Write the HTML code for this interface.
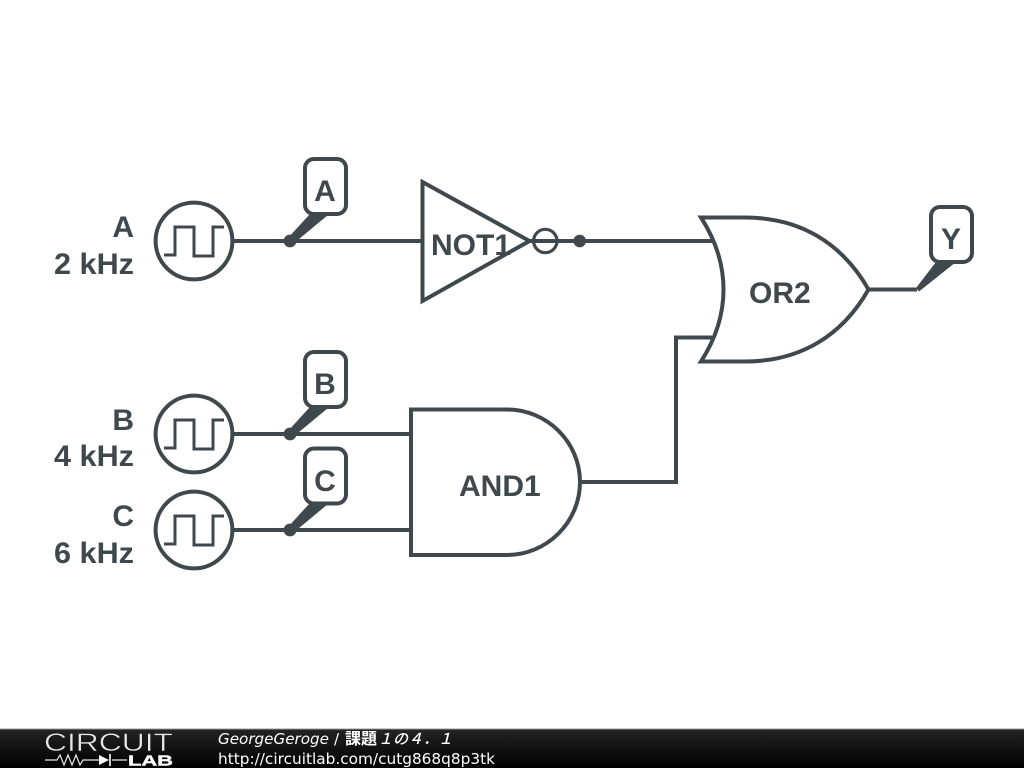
<!DOCTYPE html>
<html>
<head>
<meta charset="utf-8">
<style>
html,body{margin:0;padding:0;background:#fff;width:1024px;height:768px;overflow:hidden}
svg{display:block}
</style>
</head>
<body>
<svg width="1024" height="768" viewBox="0 0 1024 768" xmlns="http://www.w3.org/2000/svg">
<defs>
<linearGradient id="bar" x1="0" y1="0" x2="0" y2="1">
<stop offset="0" stop-color="#242424"/>
<stop offset="1" stop-color="#000"/>
</linearGradient>
</defs>
<rect width="1024" height="768" fill="#fff"/>
<g fill="none" stroke="#3f484d" stroke-width="4" stroke-linejoin="miter">
<!-- wires -->
<path d="M232 241H422"/>
<path d="M530 241H713"/>
<path d="M232 434H411"/>
<path d="M232 530H411"/>
<path d="M580 482H676V337.5H712"/>
<path d="M869 289.5H917"/>
<!-- sources -->
<circle cx="194" cy="241" r="38.4"/>
<circle cx="194" cy="434" r="38.4"/>
<circle cx="194" cy="530" r="38.4"/>
<g stroke-width="3">
<path d="M164 255H175V227H194V256H213V227H224"/>
<path d="M164 448H175V420H194V449H213V420H224"/>
<path d="M164 544H175V516H194V545H213V516H224"/>
</g>
<!-- NOT -->
<path d="M422.5 182V301L529.5 241Z" fill="#fff"/>
<circle cx="545.3" cy="241" r="11.7" stroke-width="3.2"/>
<!-- OR -->
<path d="M701 217.5H745C800 217.5 842 243 868.5 289.5C842 336 800 361.5 745 361.5H701C731 315 731 264 701 217.5Z" fill="#fff"/>
<!-- AND -->
<path d="M411 409.5H507C547 409.5 580 442 580 482C580 522 547 555 507 555H411Z" fill="#fff"/>
<!-- labels -->
<rect x="305" y="159" width="41" height="55" rx="9" fill="#fff"/>
<rect x="305" y="352" width="41" height="55" rx="9" fill="#fff"/>
<rect x="305" y="448.5" width="41" height="55" rx="9" fill="#fff"/>
<rect x="931" y="207" width="41" height="55" rx="9" fill="#fff"/>
</g>
<g fill="#3f484d">
<circle cx="290" cy="241" r="6.4"/>
<circle cx="290" cy="434" r="6.4"/>
<circle cx="290" cy="530" r="6.4"/>
<circle cx="579.7" cy="241" r="6.3"/>
<path d="M288 238L309 215H328L293 244Z"/>
<path d="M288 431L309 408H328L293 437Z"/>
<path d="M288 527L309 504H328L293 533Z"/>
<path d="M916 288L936 262H956L919 291.5Z"/>
</g>
<g font-family="'Liberation Sans',sans-serif" font-weight="700" font-size="30" fill="#3f484d">
<text x="134" y="237" text-anchor="end">A</text>
<text x="134" y="274" text-anchor="end" textLength="80" lengthAdjust="spacingAndGlyphs">2 kHz</text>
<text x="134" y="430" text-anchor="end">B</text>
<text x="134" y="466" text-anchor="end" textLength="80" lengthAdjust="spacingAndGlyphs">4 kHz</text>
<text x="134" y="526" text-anchor="end">C</text>
<text x="134" y="563" text-anchor="end" textLength="80" lengthAdjust="spacingAndGlyphs">6 kHz</text>
<text x="325" y="201" text-anchor="middle">A</text>
<text x="325" y="394" text-anchor="middle">B</text>
<text x="325" y="491" text-anchor="middle">C</text>
<text x="951" y="249" text-anchor="middle">Y</text>
<text x="431" y="255">NOT1</text>
<text x="749" y="303">OR2</text>
<text x="459" y="496">AND1</text>
</g>
<!-- footer -->
<rect x="0" y="729" width="1024" height="39" fill="url(#bar)"/>
<rect x="0" y="728.5" width="1024" height="1" fill="#9a9a9a"/>
<text x="44" y="751" font-family="'Liberation Sans',sans-serif" font-size="25" fill="#e8e8e8" stroke="#161616" stroke-width="0.5" textLength="129" lengthAdjust="spacingAndGlyphs">CIRCUIT</text>
<text x="128" y="765.5" font-family="'Liberation Sans',sans-serif" font-weight="700" font-size="15" fill="#fff" stroke="#fff" stroke-width="0.4" textLength="45" lengthAdjust="spacingAndGlyphs">LAB</text>
<path d="M45 760H57L60 755L64 765L68 755L72 765L76 755L80 765L83 760H99M112 760H127" fill="none" stroke="#e8e8e8" stroke-width="1.2"/>
<path d="M99 755V765L109 760Z" fill="#fff"/>
<path d="M110 754V766" stroke="#fff" stroke-width="1.6"/>
<text x="218" y="744" font-family="'DejaVu Sans',sans-serif" font-style="italic" font-size="15" fill="#fff" textLength="111" lengthAdjust="spacingAndGlyphs">GeorgeGeroge</text>
<text x="334" y="744" font-family="'DejaVu Sans',sans-serif" font-size="15" fill="#fff">/</text>
<text x="345" y="744" font-family="'Noto Sans CJK JP',sans-serif" font-weight="700" font-size="16" fill="#fff">課題</text>
<text x="378" y="744" font-family="'Noto Sans CJK JP',sans-serif" font-weight="500" font-size="15" font-style="italic" fill="#fff">１の４．１</text>
<text x="218" y="764" font-family="'DejaVu Sans',sans-serif" font-size="15" fill="#fff" textLength="277" lengthAdjust="spacingAndGlyphs">http://circuitlab.com/cutg868q8p3tk</text>
</svg>
</body>
</html>
